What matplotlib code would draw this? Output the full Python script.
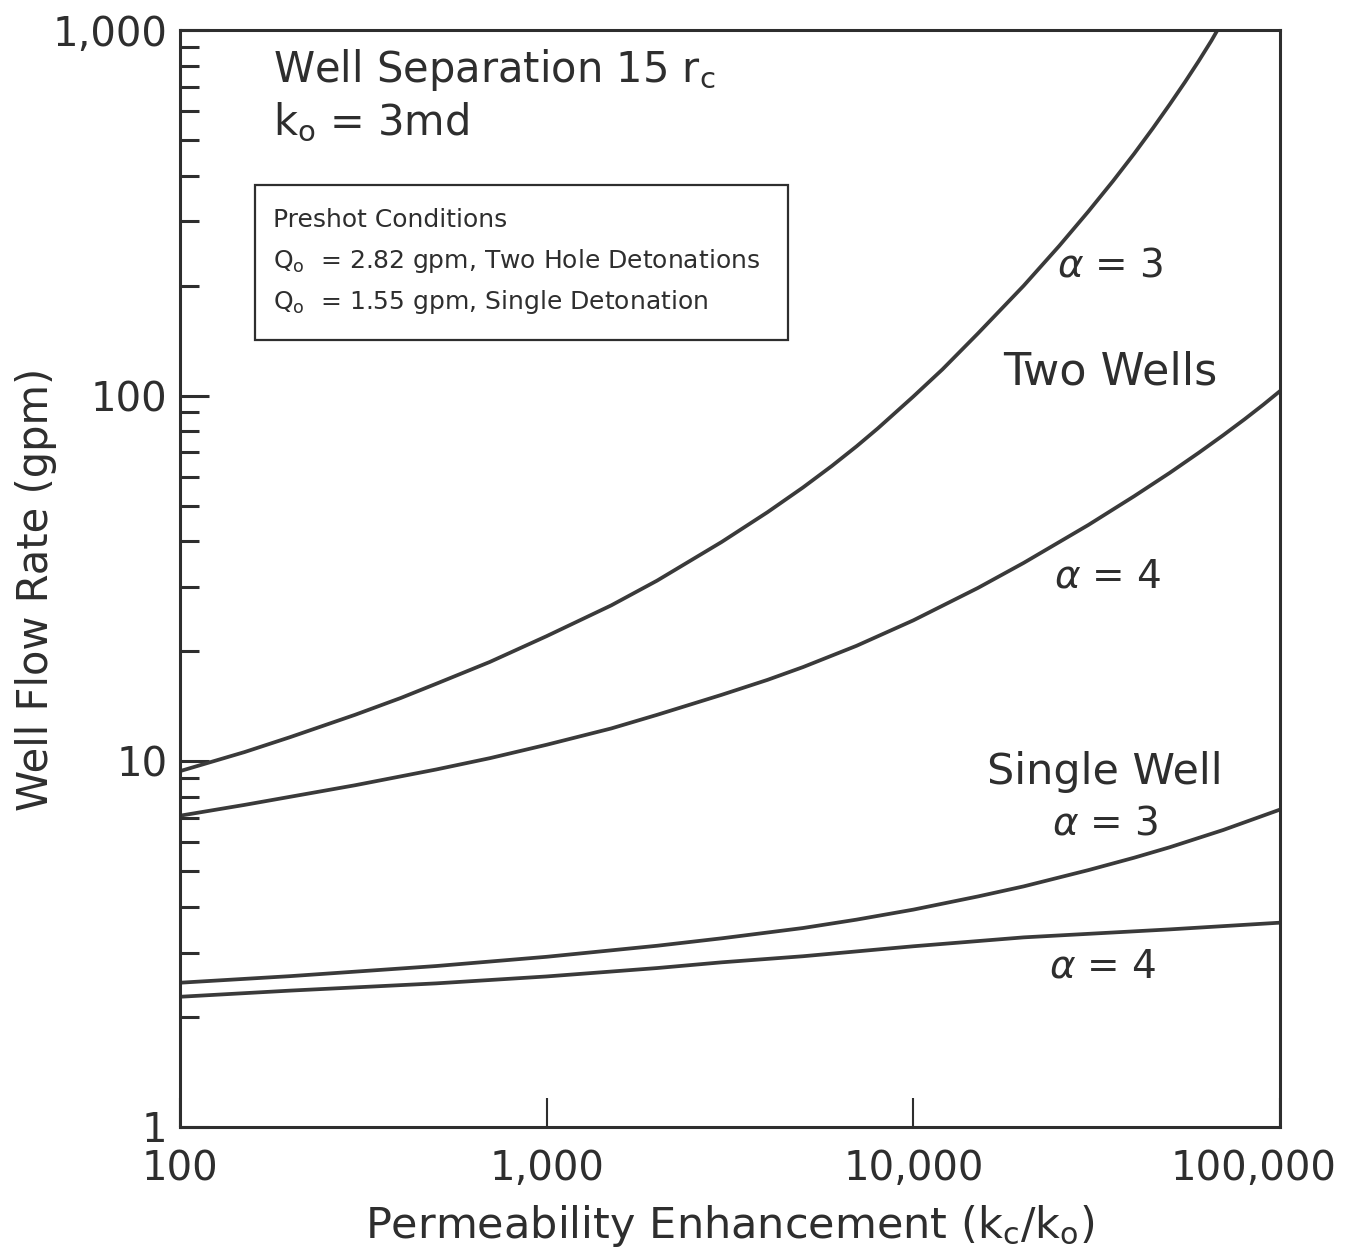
import numpy as np
import matplotlib
matplotlib.use("Agg")
import matplotlib.pyplot as plt
import matplotlib.patches as patches
from matplotlib.ticker import FixedLocator, NullLocator, LogLocator, NullFormatter
from matplotlib.transforms import ScaledTranslation

# data (x = kc/ko, y = gpm)
two_a3_x = [100, 150, 200, 300, 400, 500, 700, 1000, 1500, 2000, 3000, 4000, 5000,
            6000, 7000, 8000, 10000, 12000, 15000, 20000, 25000, 30000, 35000,
            40000, 45000, 50000, 55000, 60000, 65000, 67500]
two_a3_y = [9.4, 10.6, 11.65, 13.4, 14.9, 16.3, 18.7, 22, 26.7, 31.2, 39.8, 48, 56.1,
            64.3, 72.7, 81.4, 99.5, 118, 148, 200, 257, 319, 386,
            459, 539, 626, 720, 823, 936, 1000]

two_a4_x = [100, 150, 200, 300, 500, 700, 1000, 1500, 2000, 3000, 4000, 5000, 7000,
            10000, 15000, 20000, 30000, 40000, 50000, 60000, 70000, 80000, 90000, 100000]
two_a4_y = [7.1, 7.6, 8.0, 8.6, 9.5, 10.2, 11.1, 12.3, 13.4, 15.2, 16.7, 18.1, 20.7,
            24.3, 29.8, 34.9, 44.3, 53.1, 61.5, 69.8, 78, 86.2, 94.5, 103]

one_a3_x = [100, 200, 500, 1000, 2000, 3000, 5000, 7000, 10000, 15000,
            20000, 30000, 40000, 50000, 70000, 100000]
one_a3_y = [2.48, 2.585, 2.755, 2.92, 3.13, 3.28, 3.5, 3.69, 3.93, 4.27,
            4.55, 5.04, 5.45, 5.82, 6.49, 7.38]

one_a4_x = [100, 200, 500, 1000, 2000, 3000, 5000, 10000, 20000, 50000, 100000]
one_a4_y = [2.27, 2.36, 2.47, 2.58, 2.72, 2.82, 2.93, 3.12, 3.3, 3.47, 3.62]

x_ticks = [100, 1000, 10000, 100000]
x_labels = ["100", "1,000", "10,000", "100,000"]
y_ticks = [1, 10, 100, 1000]
y_labels = ["1", "10", "100", "1,000"]

ink = "#2e2e2e"
line_col = "#3a3a3a"

plt.rcParams["font.family"] = ["DejaVu Sans"]
plt.rcParams["text.color"] = ink

fig = plt.figure(figsize=(13.51, 12.53), dpi=100)
ax = fig.add_axes([0.1332, 0.1006, 0.8143, 0.8754])

for xs, ys in [(two_a3_x, two_a3_y), (two_a4_x, two_a4_y),
               (one_a3_x, one_a3_y), (one_a4_x, one_a4_y)]:
    ax.plot(xs, ys, color=line_col, lw=2.7, solid_capstyle="butt", solid_joinstyle="round")

ax.set_xscale("log")
ax.set_yscale("log")
ax.set_xlim(100, 100000)
ax.set_ylim(1, 1000)

for s in ax.spines.values():
    s.set_linewidth(2.2)
    s.set_color(ink)

ax.xaxis.set_major_locator(FixedLocator(x_ticks))
ax.set_xticklabels(x_labels)
ax.xaxis.set_minor_locator(NullLocator())
ax.yaxis.set_major_locator(FixedLocator(y_ticks))
ax.set_yticklabels(y_labels)
ax.yaxis.set_minor_locator(LogLocator(base=10, subs=range(2, 10)))
ax.yaxis.set_minor_formatter(NullFormatter())

ax.tick_params(axis="x", which="major", direction="in", length=21, width=1.5,
               color=ink, labelsize=29, labelcolor=ink, pad=16)
ax.tick_params(axis="y", which="major", direction="in", length=21, width=2.2,
               color=ink, labelsize=29, labelcolor=ink, pad=9)
ax.tick_params(axis="y", which="minor", direction="in", length=14, width=2.2,
               color=ink)

# nudge the last x label left like the original
lab = ax.get_xticklabels()[-1]
lab.set_transform(lab.get_transform() + ScaledTranslation(-0.27, 0, fig.dpi_scale_trans))

ax.set_xlabel(r"Permeability Enhancement (k$_\mathrm{c}$/k$_\mathrm{o}$)",
              fontsize=31, color=ink, labelpad=10)
ax.set_ylabel("Well Flow Rate (gpm)", fontsize=30, color=ink)
ax.yaxis.set_label_coords(-0.112, 0.49)

# header text
ax.text(0.085, 0.9635, r"Well Separation 15 r$_\mathrm{c}$", transform=ax.transAxes,
        fontsize=30, va="center", ha="left")
ax.text(0.085, 0.916, r"k$_\mathrm{o}$ = 3md", transform=ax.transAxes,
        fontsize=30, va="center", ha="left")

# preshot box
ax.add_patch(patches.Rectangle((0.068, 0.7174), 0.485, 0.1413, transform=ax.transAxes,
                               fill=False, lw=1.6, ec=ink))
box_lines = ["Preshot Conditions",
             r"Q$_\mathrm{o}$  = 2.82 gpm, Two Hole Detonations",
             r"Q$_\mathrm{o}$  = 1.55 gpm, Single Detonation"]
for i, t in enumerate(box_lines):
    ax.text(0.0845, 0.8268 - i * 0.0374, t, transform=ax.transAxes,
            fontsize=18, va="center", ha="left")

# curve labels
ax.text(0.8455, 0.7858, r"$\alpha$ = 3", transform=ax.transAxes, fontsize=28, ha="center", va="center")
ax.text(0.8455, 0.688, "Two Wells", transform=ax.transAxes, fontsize=32, ha="center", va="center")
ax.text(0.8436, 0.5014, r"$\alpha$ = 4", transform=ax.transAxes, fontsize=28, ha="center", va="center")
ax.text(0.841, 0.3236, "Single Well", transform=ax.transAxes, fontsize=31, ha="center", va="center")
ax.text(0.841, 0.2762, r"$\alpha$ = 3", transform=ax.transAxes, fontsize=28, ha="center", va="center")
ax.text(0.839, 0.1459, r"$\alpha$ = 4", transform=ax.transAxes, fontsize=28, ha="center", va="center")

fig.savefig("out.png", dpi=100)
